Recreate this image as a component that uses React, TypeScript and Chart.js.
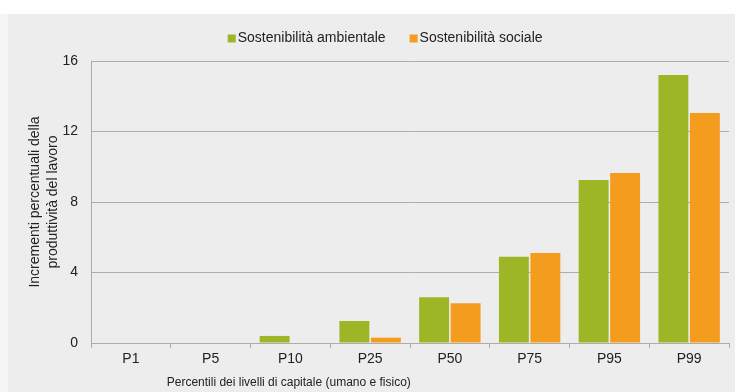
import React, { useEffect, useRef } from "react";
import { Chart, registerables } from "chart.js";

Chart.register(...registerables);

const categories = ["P1", "P5", "P10", "P25", "P50", "P75", "P95", "P99"];
const seriesNames = ["Sostenibilità ambientale", "Sostenibilità sociale"];
const ambientale = [0, 0, 0.4, 1.25, 2.6, 4.9, 9.25, 15.2];
const sociale = [0, 0, 0, 0.3, 2.25, 5.1, 9.65, 13.05];
const yTicks = [0, 4, 8, 12, 16];
const yTitle = ["Incrementi percentuali della", "produttività del lavoro"];
const xTitle = "Percentili dei livelli di capitale (umano e fisico)";

const GREEN = "#9db626";
const ORANGE = "#f39c1e";
const TEXT = "#222222";
const GRID = "#acacac";
const FONT = "'Liberation Sans', Arial, sans-serif";

// Draws the legend row above the plot and the x-axis caption below it.
const decorPlugin = {
  id: "decor",
  afterDraw(chart: any) {
    const { ctx, chartArea } = chart;
    const w = chartArea.right - chartArea.left;
    ctx.save();
    ctx.font = `14px ${FONT}`;
    ctx.textBaseline = "middle";
    ctx.textAlign = "left";

    const box = 8;
    const gapText = 2;
    const gapItem = 24;
    const items = chart.data.datasets.map((ds: any) => ({
      label: ds.label as string,
      color: ds.backgroundColor as string,
      width: ctx.measureText(ds.label).width,
    }));
    const total =
      items.reduce((s: number, it: any) => s + box + gapText + it.width, 0) +
      gapItem * (items.length - 1);
    let x = chartArea.left + w * 0.461 - total / 2;
    const y = chartArea.top - 22.5;
    for (const it of items) {
      ctx.fillStyle = it.color;
      ctx.fillRect(x, y - box / 2, box, box);
      x += box + gapText;
      ctx.fillStyle = TEXT;
      ctx.fillText(it.label, x, y);
      x += it.width + gapItem;
    }

    ctx.font = `12px ${FONT}`;
    ctx.textAlign = "center";
    ctx.fillStyle = TEXT;
    ctx.fillText(xTitle, chartArea.left + w * 0.31, chartArea.bottom + 40);
    ctx.restore();
  },
};

export default function App() {
  const canvasRef = useRef<HTMLCanvasElement>(null);

  useEffect(() => {
    document.body.style.margin = "0";
    const canvas = canvasRef.current;
    if (!canvas) return;

    const chart = new Chart(canvas, {
      type: "bar",
      data: {
        labels: categories,
        datasets: [
          {
            label: seriesNames[0],
            data: ambientale,
            backgroundColor: GREEN,
            categoryPercentage: 0.79,
            barPercentage: 0.95,
          },
          {
            label: seriesNames[1],
            data: sociale,
            backgroundColor: ORANGE,
            categoryPercentage: 0.79,
            barPercentage: 0.95,
          },
        ],
      },
      options: {
        responsive: false,
        animation: false,
        layout: { padding: { top: 47, right: 6, left: 0, bottom: 0 } },
        plugins: {
          legend: { display: false },
          tooltip: { enabled: false },
        },
        scales: {
          x: {
            afterFit: (scale: any) => {
              scale.height = 49;
            },
            grid: {
              offset: true,
              drawOnChartArea: false,
              drawTicks: true,
              tickLength: 5,
              color: GRID,
            },
            border: { color: GRID, width: 1 },
            ticks: {
              color: TEXT,
              padding: 3,
              font: { family: FONT, size: 14 },
              maxRotation: 0,
            },
          },
          y: {
            min: 0,
            max: 16,
            afterFit: (scale: any) => {
              scale.width = 83;
            },
            afterBuildTicks: (scale: any) => {
              scale.ticks = yTicks.map((v) => ({ value: v }));
            },
            grid: { color: GRID, drawTicks: false },
            border: { color: GRID, width: 1 },
            ticks: {
              color: TEXT,
              padding: 13,
              font: { family: FONT, size: 14 },
            },
            title: {
              display: true,
              text: yTitle,
              color: TEXT,
              font: { family: FONT, size: 14, lineHeight: 1.3 },
              padding: { top: 18, bottom: 0 },
            },
          },
        },
      },
      plugins: [decorPlugin],
    });

    return () => chart.destroy();
  }, []);

  return (
    <div style={{ position: "relative", width: 735, height: 392, background: "#ffffff" }}>
      <div
        style={{
          position: "absolute",
          left: 0,
          top: 14,
          width: 8,
          height: 378,
          background: "#f5f5f5",
        }}
      />
      <div
        style={{
          position: "absolute",
          left: 8,
          top: 14,
          width: 727,
          height: 378,
          background: "#ededed",
        }}
      >
        <canvas ref={canvasRef} width={727} height={378} style={{ display: "block" }} />
      </div>
    </div>
  );
}
